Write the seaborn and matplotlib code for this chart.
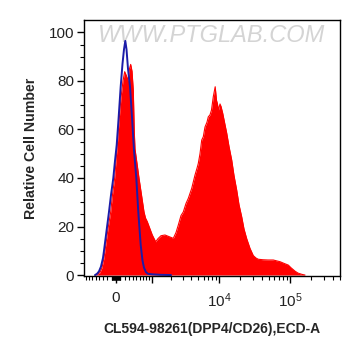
import numpy as np
import pandas as pd
import matplotlib
matplotlib.use("Agg")
import matplotlib.pyplot as plt
import seaborn as sns
from matplotlib.ticker import FixedLocator, NullFormatter

# ---------------------------------------------------------
# histogram data (intensity, relative count)
# ---------------------------------------------------------
red_x = [-490, -460, -381, -330, -280, -231, -184, -121, -80, -30, 30, 68, 114,
         161, 201, 244, 280, 317, 347, 381, 415, 439, 460, 516, 573, 649, 729,
         779, 841, 941, 1031, 1175, 1281, 1430, 1649, 1832, 2033, 2199, 2410,
         2605, 2852, 3080, 3369, 3636, 4068, 4534, 4843, 5053, 5344, 5650, 5954,
         6294, 6719, 7010, 7410, 7783, 8252, 8780, 9160, 9401, 9777, 10268,
         10607, 11210, 11886, 12773, 13763, 15029, 16198, 17682, 19054, 20804,
         22414, 24472, 27244, 30331, 33110, 35686, 41580, 48930, 58100, 65520,
         72240, 82250, 94570, 103250, 117600, 129640, 146230, 162820]
red_y = [0, 0.3, 1, 3, 7, 13, 19, 26, 33, 40, 53.6, 63, 73,
         80, 83.8, 82, 80, 85, 86.8, 84, 76, 60, 52, 46, 40, 33, 26,
         23.5, 22, 19, 16.5, 13.7, 15, 16.2, 16.5, 16, 15.5, 15.1, 17.5,
         20.6, 24.5, 26, 29.5, 31.6, 35.7, 41.2, 44, 46, 50, 55.6, 57,
         61, 63, 65.2, 66, 68, 73.5, 77.6, 72, 70.8, 68, 70.5,
         69.5, 66.7, 63, 58.5, 53, 47.4, 41, 35, 29, 24,
         19, 15, 11, 8, 7, 6.5, 6.3, 6.2, 6.2, 5.8,
         5.5, 4.8, 4.1, 3, 1.6, 0.8, 0.3, 0]

blue_x = [-516, -460, -407, -355, -305, -280, -220, -161, -114, -61, -23, 16,
          57, 107, 149, 184, 215, 244, 280, 330, 381, 433, 496, 553, 624, 680,
          729, 796, 866, 1019, 1379, 2034]
blue_y = [0, 0.5, 1.5, 3.5, 7, 10, 18, 26, 33, 40, 47, 53.6,
          64, 77.6, 87, 93, 96.5, 93, 85, 77.6, 65, 51.5, 40, 26, 12.4, 6,
          3, 1.2, 0.5, 0.3, 0.1, 0]

x_major = [0, 1e3, 1e4, 1e5]
x_major_labels = ["0", "", "$10^4$", "$10^5$"]
y_major = [0, 20, 40, 60, 80, 100]

red_df = pd.DataFrame({"x": red_x, "y": red_y})
blue_df = pd.DataFrame({"x": blue_x, "y": blue_y})

sns.set_theme(style="ticks")
plt.rcParams["font.family"] = ["Liberation Sans", "DejaVu Sans"]
plt.rcParams["mathtext.fontset"] = "custom"
plt.rcParams["mathtext.rm"] = "Liberation Sans"
plt.rcParams["mathtext.it"] = "Liberation Sans"

fig = plt.figure(figsize=(3.61, 3.56), dpi=100)
ax = fig.add_axes([0.2327, 0.2247, 0.7091, 0.7191])

ax.set_xscale("asinh", linear_width=700)

ax.fill_between(red_df["x"], red_df["y"], 0, color="#ff0000", linewidth=0)
sns.lineplot(data=red_df, x="x", y="y", color="#ff0000", linewidth=0.8,
             errorbar=None, ax=ax)
sns.lineplot(data=blue_df, x="x", y="y", color="#1c1ca8", linewidth=1.4,
             errorbar=None, ax=ax)

ax.set_xlim(-866, 507600)
ax.set_ylim(-0.4, 105.1)

# axis ticks
minor_x = ([-800, -700, -600, -500, -400, -300, -200, -100]
           + list(range(-90, 0, 10)) + list(range(10, 100, 10))
           + list(range(100, 1000, 100)) + list(range(2000, 10000, 1000))
           + list(range(20000, 100000, 10000)) + list(range(200000, 600000, 100000)))
ax.xaxis.set_major_locator(FixedLocator(x_major))
ax.set_xticklabels(x_major_labels)
ax.xaxis.set_minor_locator(FixedLocator(minor_x))
ax.xaxis.set_minor_formatter(NullFormatter())
ax.set_yticks(y_major)
ax.yaxis.set_minor_locator(FixedLocator(np.arange(0, 105, 5)))

ax.tick_params(axis="both", which="major", direction="out", length=5, width=1,
               color="black", labelsize=11, labelcolor="#222222")
ax.tick_params(axis="both", which="minor", direction="out", length=3, width=0.8,
               color="black")
ax.tick_params(axis="x", which="major", pad=6)
ax.tick_params(axis="y", which="major", pad=2)

for s in ax.spines.values():
    s.set_visible(True)
    s.set_color("black")
    s.set_linewidth(1)

ax.set_xlabel("CL594-98261(DPP4/CD26),ECD-A", fontsize=10, fontweight="bold",
              labelpad=9)
ax.set_ylabel("Relative Cell Number", fontsize=10.2, fontweight="bold",
              labelpad=8)

ax.text(0.50, 0.94, "WWW.PTGLAB.COM", transform=ax.transAxes, ha="center",
        va="center", fontsize=17, style="italic", color="#d4d4d4", zorder=0)

fig.savefig("out.png", dpi=100)
